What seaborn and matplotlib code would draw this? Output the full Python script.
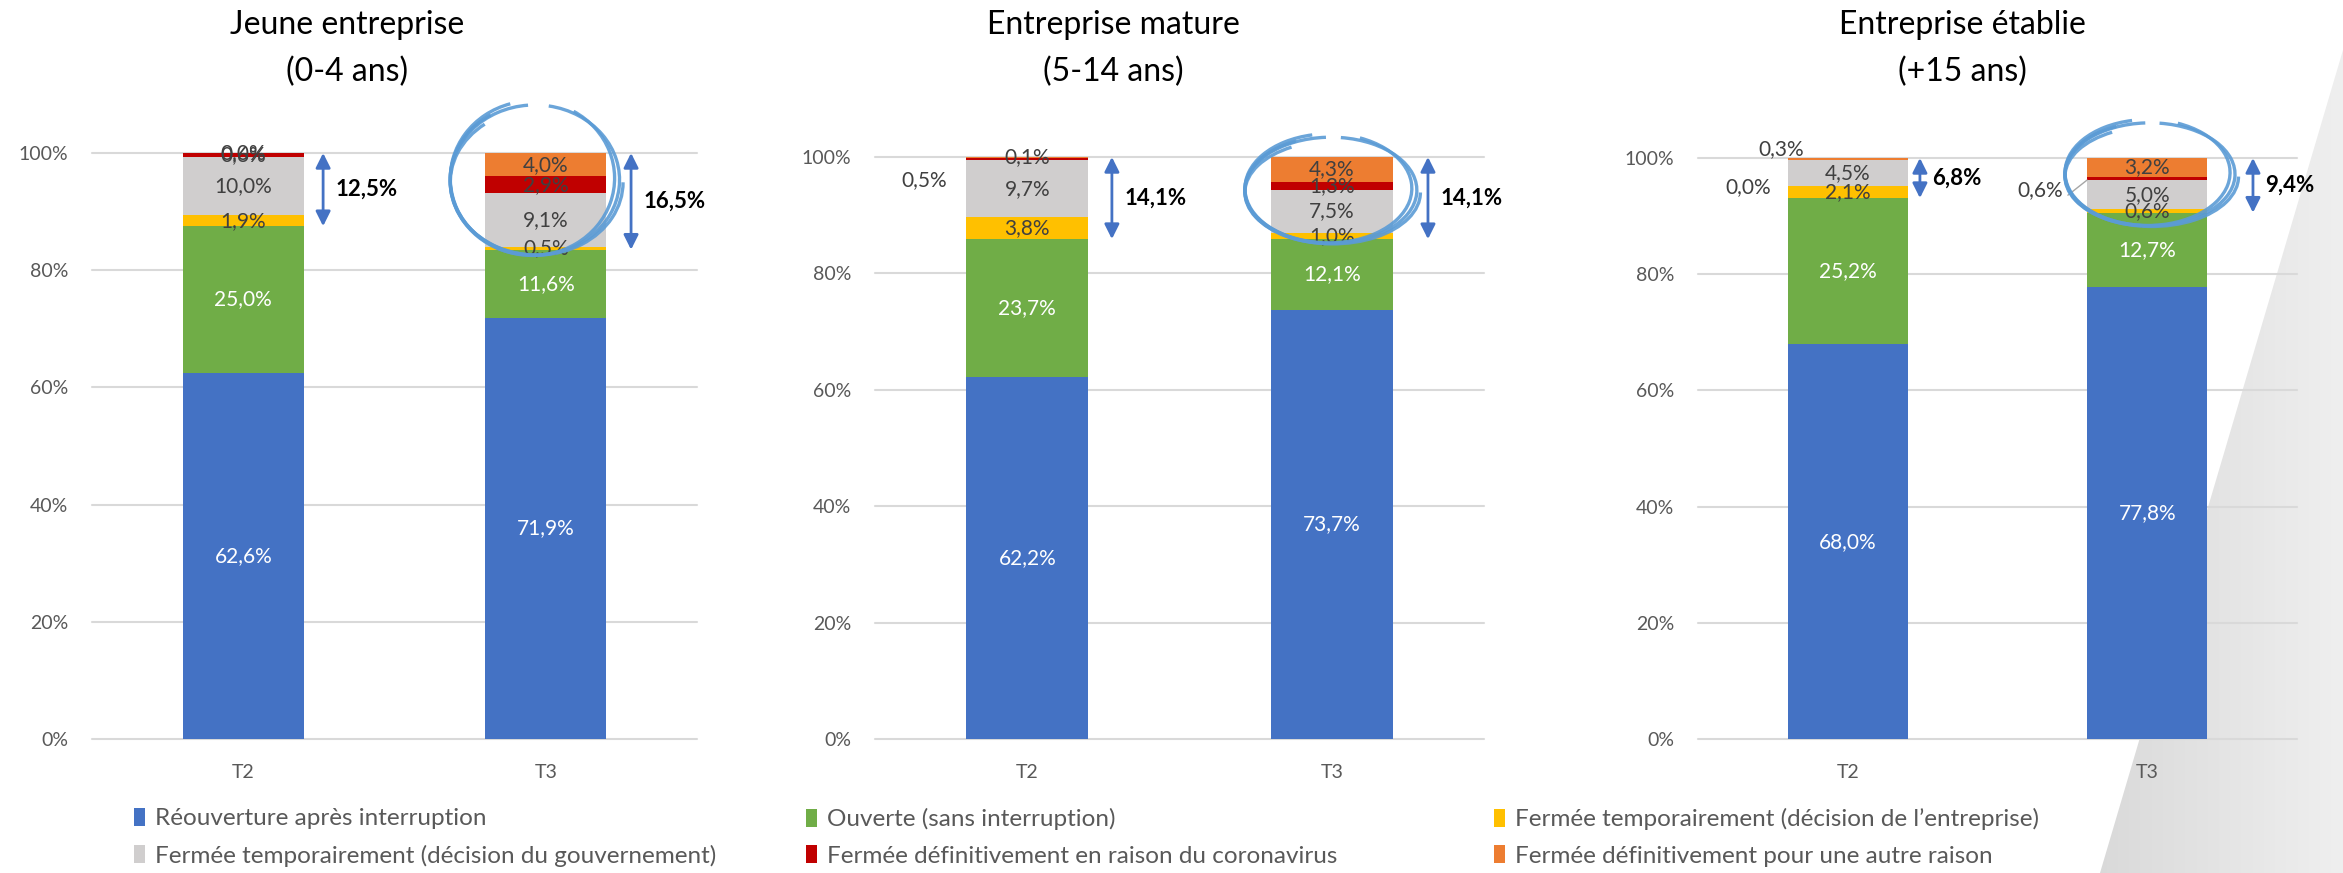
import numpy as np
import seaborn as sns
import matplotlib.pyplot as plt
from matplotlib.patches import Patch, Arc, Polygon
from matplotlib.colors import LinearSegmentedColormap

# Data in %, one [T2, T3] pair per company age group
periods = ["T2", "T3"]
group_titles = ["Jeune entreprise", "Entreprise mature", "Entreprise établie"]
group_ages = ["(0-4 ans)", "(5-14 ans)", "(+15 ans)"]

reouverture = [[62.6, 71.9], [62.2, 73.7], [68.0, 77.8]]
ouverte = [[25.0, 11.6], [23.7, 12.1], [25.2, 12.7]]
ferm_temp_entreprise = [[1.9, 0.5], [3.8, 1.0], [2.1, 0.6]]
ferm_temp_gouvernement = [[10.0, 9.1], [9.7, 7.5], [4.5, 5.0]]
ferm_def_coronavirus = [[0.6, 2.9], [0.5, 1.3], [0.0, 0.6]]
ferm_def_autre = [[0.0, 4.0], [0.1, 4.3], [0.3, 3.2]]

# share of closed companies (arrow labels)
closed_share = [[12.5, 16.5], [14.1, 14.1], [6.8, 9.4]]

series_names = [
    "Réouverture après interruption",
    "Ouverte (sans interruption)",
    "Fermée temporairement (décision de l\u2019entreprise)",
    "Fermée temporairement (décision du gouvernement)",
    "Fermée définitivement en raison du coronavirus",
    "Fermée définitivement pour une autre raison",
]
series_values = [reouverture, ouverte, ferm_temp_entreprise,
                 ferm_temp_gouvernement, ferm_def_coronavirus, ferm_def_autre]

COLORS = ["#4472c4", "#70ad47", "#ffc000", "#d0cece", "#c00000", "#ed7d31"]
LABEL_COLORS = ["white", "white", "#404040", "#404040", "#404040", "#404040"]
ARROW_COLOR = "#4472c4"
CIRCLE_COLOR = "#5b9bd5"
GRID_COLOR = "#d9d9d9"
TICK_COLOR = "#595959"

sns.set_theme(style="white")
plt.rcParams["font.family"] = ["Lato", "DejaVu Sans"]

W, H = 2343, 873
fig = plt.figure(figsize=(W / 100, H / 100), dpi=100)

# grey slanted shape in the bottom right corner
bg = fig.add_axes([0, 0, 1, 1], zorder=-5)
bg.set_xlim(0, W)
bg.set_ylim(H, 0)
bg.axis("off")
grad = np.linspace(0, 1, 256).reshape(1, -1)
cmap = LinearSegmentedColormap.from_list("g", ["#d9d9d9", "#efefef"])
im = bg.imshow(grad, cmap=cmap, extent=[2095, W, H, 40], aspect="auto")
tri = Polygon([(W, 50), (2100, H), (W, H)], closed=True, transform=bg.transData)
im.set_clip_path(tri)

# axes boxes in pixels: left, top, right, bottom
axes_px = [(92, 153, 697, 739), (875, 157, 1484, 739), (1698, 158, 2297, 739)]
title_x = [347, 1113, 1962]

# labels that Excel moved outside the bar: (group, period, series) -> (x, y)
moved_labels = {
    (1, 0, 4): (-0.34, 0.96),
    (2, 0, 4): (-0.333, 0.95),
    (2, 0, 5): (-0.223, 1.016),
    (2, 1, 4): (0.642, 0.945),
}
arrow_x = [[0.264, 1.282], [0.278, 1.316], [0.241, 1.353]]
# hand drawn circles round the T3 bars: (cx, cy, width, height)
circles = [(0.964, 0.954, 0.56, 0.256), (0.997, 0.943, 0.565, 0.182),
           (1.009, 0.972, 0.568, 0.177)]

for g in range(3):
    l, t, r, b = axes_px[g]
    ax = fig.add_axes([l / W, 1 - b / H, (r - l) / W, (b - t) / H])
    ax.patch.set_alpha(0)

    vals = np.array([np.array(s[g]) for s in series_values])  # (6, 2)
    totals = vals.sum(axis=0)
    shares = vals / totals
    cums = np.cumsum(shares, axis=0)

    # stacked bars: draw cumulative totals, top series first
    for k in range(len(series_values) - 1, -1, -1):
        sns.barplot(x=periods, y=cums[k], color=COLORS[k], width=0.4,
                    saturation=1, linewidth=0, errorbar=None, ax=ax, zorder=2)

    # value labels
    for j in range(len(periods)):
        for k in range(len(series_values)):
            txt = f"{vals[k, j]:.1f}".replace(".", ",") + "%"
            y = cums[k, j] - shares[k, j] / 2
            x = j
            if (g, j, k) in moved_labels:
                x, y = moved_labels[(g, j, k)]
                color = "#404040"
            else:
                color = LABEL_COLORS[k]
            ax.text(x, y, txt, ha="center", va="center", fontsize=15,
                    color=color, zorder=4, clip_on=False)

        # arrow showing the closed share
        top_open = cums[1, j]
        ax.annotate("", xy=(arrow_x[g][j], 1.0), xytext=(arrow_x[g][j], top_open),
                    arrowprops=dict(arrowstyle="<|-|>", color=ARROW_COLOR, lw=2,
                                    mutation_scale=22, shrinkA=0, shrinkB=0),
                    annotation_clip=False, zorder=4)
        lab = f"{closed_share[g][j]:.1f}".replace(".", ",") + "%"
        ax.text(arrow_x[g][j] + 0.04, (1.0 + top_open) / 2, lab, ha="left",
                va="center", fontsize=16, fontweight="bold", color="black",
                clip_on=False)

    if g == 2:
        ax.plot([0.735, 0.799], [0.936, 0.962], color="#a6a6a6", lw=1,
                clip_on=False, zorder=4)

    # sketchy circle, a few strokes slightly off each other
    cx, cy, cw, ch = circles[g]
    strokes = [(0.0, 0.0, 1.0, 1.0, 100, 430),
               (-0.008, 0.003, 0.97, 1.03, 120, 400),
               (0.006, -0.004, 1.02, 0.97, 150, 360),
               (-0.014, 0.0, 0.95, 1.0, 140, 260)]
    for dx, dy, sw, sh, t1, t2 in strokes:
        ax.add_patch(Arc((cx + dx, cy + dy), cw * sw, ch * sh, theta1=t1,
                         theta2=t2, color=CIRCLE_COLOR, lw=2.4, alpha=0.9,
                         clip_on=False, zorder=5))

    ax.set_xlim(-0.5, 1.5)
    ax.set_ylim(0, 1)
    ax.set_yticks(np.arange(0, 1.01, 0.2))
    ax.set_yticklabels([f"{int(round(v * 100))}%" for v in np.arange(0, 1.01, 0.2)])
    ax.yaxis.grid(True, color=GRID_COLOR, lw=1.5)
    for line in ax.get_ygridlines():
        line.set_clip_on(False)
    ax.set_axisbelow(True)
    sns.despine(ax=ax, left=True, bottom=True)
    ax.tick_params(axis="y", length=0, pad=17, labelsize=14, labelcolor=TICK_COLOR)
    ax.tick_params(axis="x", length=0, pad=18, labelsize=14, labelcolor=TICK_COLOR)
    ax.set_xlabel("")
    ax.set_ylabel("")

    fig.text(title_x[g] / W, 1 - 25 / H, group_titles[g], ha="center",
             va="center", fontsize=23, color="black")
    fig.text(title_x[g] / W, 1 - 72 / H, group_ages[g], ha="center",
             va="center", fontsize=23, color="black")

# legend: three columns of two rows
legend_cols = [[0, 3], [1, 4], [2, 5]]
legend_x = [134, 806, 1494]
for col, x in zip(legend_cols, legend_x):
    handles = [Patch(facecolor=COLORS[k], edgecolor="none", label=series_names[k])
               for k in col]
    leg = fig.legend(handles=handles, loc="upper left",
                     bbox_to_anchor=(x / W, 1 - 808 / H), frameon=False,
                     fontsize=17.5, handlelength=0.45, handleheight=0.75,
                     handletextpad=0.4, labelspacing=0.62, borderpad=0,
                     borderaxespad=0)
    for txt in leg.get_texts():
        txt.set_color(TICK_COLOR)

fig.savefig("out.png", dpi=100)
